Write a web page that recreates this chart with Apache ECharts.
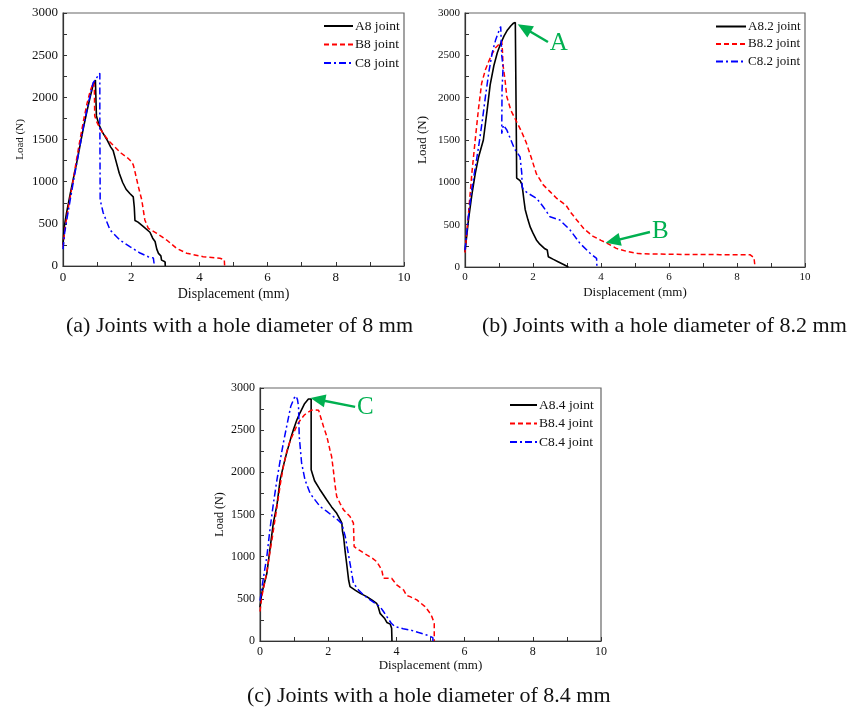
<!DOCTYPE html>
<html>
<head>
<meta charset="utf-8">
<script src="https://cdn.jsdelivr.net/npm/echarts@6/dist/echarts.min.js"></script>
<style>
html,body{margin:0;padding:0;background:#fff;}
#chart{width:859px;height:710px;}
</style>
</head>
<body>
<div id="chart"></div>
<script>
// ---- data (Displacement mm, Load N) ----
const xTicks = [0, 2, 4, 6, 8, 10];
const yTicks = [0, 500, 1000, 1500, 2000, 2500, 3000];
const captions = ['(a) Joints with a hole diameter of 8 mm', '(b) Joints with a hole diameter of 8.2 mm', '(c) Joints with a hole diameter of 8.4 mm'];
const namesA = ['A8 joint', 'B8 joint', 'C8 joint'];
const namesB = ['A8.2 joint', 'B8.2 joint', 'C8.2 joint'];
const namesC = ['A8.4 joint', 'B8.4 joint', 'C8.4 joint'];

const A8 = [[0,250],[0.03,450],[0.1,620],[0.2,830],[0.3,1030],[0.4,1220],[0.5,1430],[0.6,1640],[0.7,1830],[0.8,2010],[0.88,2140],[0.95,2205],[0.97,2200],[0.98,1780],[1.05,1680],[1.15,1590],[1.3,1490],[1.4,1410],[1.47,1370],[1.57,1220],[1.65,1100],[1.75,990],[1.85,910],[1.96,860],[2.06,820],[2.09,700],[2.11,540],[2.2,520],[2.35,470],[2.55,400],[2.63,330],[2.7,290],[2.75,200],[2.8,150],[2.87,120],[2.89,70],[2.99,50],[3.0,0]];
const B8 = [[0,220],[0.05,420],[0.15,680],[0.3,1020],[0.4,1270],[0.5,1500],[0.6,1720],[0.7,1920],[0.8,2080],[0.9,2180],[0.92,2100],[0.93,1780],[1.0,1700],[1.1,1620],[1.2,1560],[1.35,1480],[1.5,1420],[1.7,1340],[1.9,1280],[2.01,1237],[2.06,1200],[2.11,1119],[2.21,941],[2.31,783],[2.36,650],[2.4,546],[2.5,447],[2.75,388],[3.04,308],[3.33,210],[3.63,151],[4.11,110],[4.6,91],[4.73,75],[4.74,0]];
const C8 = [[0,200],[0.05,400],[0.15,640],[0.3,990],[0.4,1210],[0.5,1430],[0.6,1650],[0.7,1850],[0.8,2030],[0.88,2170],[1.0,2240],[1.08,2285],[1.08,1800],[1.09,783],[1.18,629],[1.38,427],[1.67,308],[1.96,230],[2.26,154],[2.5,110],[2.65,95],[2.68,0]];

const A82 = [[0,180],[0.1,550],[0.2,850],[0.3,1100],[0.4,1300],[0.54,1500],[0.65,1850],[0.74,2150],[0.85,2380],[0.95,2530],[1.05,2640],[1.15,2730],[1.25,2800],[1.35,2850],[1.42,2878],[1.48,2888],[1.5,2880],[1.51,1550],[1.52,1050],[1.62,1020],[1.67,980],[1.7,900],[1.73,800],[1.77,680],[1.85,560],[1.92,470],[2.0,400],[2.1,320],[2.2,270],[2.35,215],[2.42,200],[2.45,122],[2.6,90],[2.75,60],[2.9,30],[3.04,0]];
const B82 = [[0,170],[0.1,620],[0.2,1100],[0.3,1500],[0.4,1880],[0.49,2170],[0.6,2330],[0.7,2430],[0.8,2520],[0.9,2590],[1.0,2630],[1.08,2665],[1.1,2560],[1.12,2380],[1.18,2200],[1.23,2010],[1.35,1850],[1.5,1730],[1.65,1610],[1.8,1470],[1.95,1290],[2.1,1100],[2.3,970],[2.5,890],[2.7,810],[2.97,730],[3.1,650],[3.28,559],[3.5,450],[3.77,362],[4.0,315],[4.17,283],[4.45,220],[4.75,185],[5.1,158],[5.54,154],[6.5,148],[7.5,146],[8.38,146],[8.5,110],[8.53,0]];
const C82 = [[0,200],[0.1,600],[0.2,920],[0.3,1170],[0.4,1420],[0.5,1700],[0.6,2010],[0.7,2300],[0.8,2530],[0.9,2680],[0.98,2770],[1.05,2840],[1.08,2843],[1.08,2500],[1.12,2360],[1.09,2100],[1.08,1575],[1.13,1677],[1.23,1618],[1.35,1500],[1.45,1400],[1.57,1330],[1.62,1300],[1.67,1106],[1.68,950],[1.72,909],[1.9,860],[2.11,810],[2.3,712],[2.5,594],[2.79,555],[3.09,437],[3.38,280],[3.68,162],[3.87,102],[3.88,0]];

const A84 = [[0,400],[0.05,560],[0.2,800],[0.39,1397],[0.5,1620],[0.59,1911],[0.7,2100],[0.78,2228],[0.9,2400],[0.98,2505],[1.08,2620],[1.17,2703],[1.3,2810],[1.42,2869],[1.47,2880],[1.5,2870],[1.5,2330],[1.5,2030],[1.6,1900],[1.75,1800],[1.96,1672],[2.1,1590],[2.25,1514],[2.35,1440],[2.4,1397],[2.42,1300],[2.45,1239],[2.5,1050],[2.54,922],[2.6,720],[2.64,645],[2.8,600],[2.94,565],[3.13,526],[3.3,480],[3.42,447],[3.47,400],[3.52,328],[3.65,270],[3.72,220],[3.82,200],[3.86,150],[3.87,0]];
const B84 = [[0,350],[0.05,520],[0.2,820],[0.35,1200],[0.5,1600],[0.6,1870],[0.7,2100],[0.8,2270],[0.9,2390],[1.0,2480],[1.1,2570],[1.2,2630],[1.3,2680],[1.4,2710],[1.5,2735],[1.6,2742],[1.72,2735],[1.76,2723],[1.86,2545],[1.96,2426],[2.05,2268],[2.1,2188],[2.15,2030],[2.2,1850],[2.25,1713],[2.35,1630],[2.45,1555],[2.64,1476],[2.74,1397],[2.76,1120],[2.9,1080],[3.13,1021],[3.3,980],[3.42,942],[3.57,843],[3.62,744],[3.86,744],[4.01,665],[4.21,605],[4.3,540],[4.4,526],[4.6,487],[4.84,408],[4.95,350],[5.04,289],[5.11,210],[5.11,0]];
const C84 = [[0,480],[0.1,750],[0.2,1000],[0.3,1350],[0.4,1650],[0.5,1920],[0.6,2160],[0.7,2380],[0.8,2580],[0.9,2780],[1.0,2880],[1.06,2905],[1.1,2860],[1.13,2780],[1.15,2430],[1.22,2110],[1.32,1910],[1.47,1750],[1.6,1680],[1.76,1595],[1.95,1540],[2.15,1476],[2.3,1430],[2.4,1390],[2.5,1240],[2.57,1080],[2.64,920],[2.7,780],[2.74,685],[2.89,605],[3.05,540],[3.23,487],[3.4,440],[3.52,408],[3.62,350],[3.72,289],[3.85,210],[3.96,170],[4.2,145],[4.4,131],[4.65,100],[4.89,71],[5.07,40],[5.07,0]];

// annotation arrows: [tail, head] in data coordinates
const arrowA = [[2.44, 2657], [1.74, 2823]];
const arrowB = [[5.44, 413], [4.35, 306]];
const arrowC = [[2.79, 2776], [1.695, 2864]];

// ---- styling ----
const FONT = 'Liberation Serif';
const GREEN = '#00b050';
const grids = [
  {left: 63, top: 13, width: 341, height: 253},
  {left: 465, top: 13, width: 340, height: 254},
  {left: 260, top: 388, width: 341, height: 253}
];
const tickSize = [13, 11, 12];
const xNameSize = [14, 13, 13];
const xNameGap = [21, 19, 15];
const yNameSize = [11, 13, 12];
const yNameGap = [37, 36, 34];

function xAxis(i) {
  return {
    gridIndex: i, type: 'value', min: 0, max: 10, interval: 2,
    name: 'Displacement (mm)', nameLocation: 'middle', nameGap: xNameGap[i],
    nameTextStyle: {fontFamily: FONT, fontSize: xNameSize[i], color: '#111'},
    axisLine: {show: true, onZero: false, lineStyle: {color: '#333', width: 1.2}},
    axisTick: {show: true, inside: true, length: 4, lineStyle: {color: '#333'}},
    minorTick: {show: true, splitNumber: 2, length: 4, lineStyle: {color: '#333'}},
    splitLine: {show: false},
    axisLabel: {fontFamily: FONT, fontSize: tickSize[i], color: '#111', margin: 5,
      formatter: v => xTicks.includes(v) ? String(v) : ''}
  };
}
function yAxis(i) {
  return {
    gridIndex: i, type: 'value', min: 0, max: 3000, interval: 500,
    name: 'Load (N)', nameLocation: 'middle', nameGap: yNameGap[i],
    nameTextStyle: {fontFamily: FONT, fontSize: yNameSize[i], color: '#111'},
    axisLine: {show: true, onZero: false, lineStyle: {color: '#333', width: 1.2}},
    axisTick: {show: true, inside: true, length: 4, lineStyle: {color: '#333'}},
    minorTick: {show: true, splitNumber: 2, length: 4, lineStyle: {color: '#333'}},
    splitLine: {show: false},
    axisLabel: {fontFamily: FONT, fontSize: tickSize[i], color: '#111', margin: 5,
      formatter: v => yTicks.includes(v) ? String(v) : ''}
  };
}
const solid = 'solid', dashed = [5, 3], dashDot = [7, 3, 2, 3];
function ser(name, data, color, type, i, extra) {
  return Object.assign({
    name, type: 'line', data, xAxisIndex: i, yAxisIndex: i,
    symbol: 'none', showSymbol: false, smooth: false, animation: false,
    lineStyle: {color, width: color === '#000000' ? 1.6 : 1.5, type},
    itemStyle: {color}
  }, extra || {});
}
function arrow(pair, letter) {
  return {
    silent: true, animation: false,
    symbol: ['none', 'triangle'], symbolSize: [13, 15],
    lineStyle: {color: GREEN, width: 2.5, type: 'solid'},
    itemStyle: {color: GREEN},
    label: {show: true, position: 'start', formatter: letter, color: GREEN,
      fontFamily: FONT, fontSize: 25, distance: 2},
    emphasis: {disabled: true},
    data: [[{coord: pair[0]}, {coord: pair[1]}]]
  };
}
function legend(names, left, top, w, fs) {
  return {
    data: names, orient: 'vertical', left, top, padding: 0,
    itemWidth: w, itemHeight: 12, itemGap: 4.5, selectedMode: false,
    itemStyle: {opacity: 0, borderWidth: 0},
    textStyle: {fontFamily: FONT, fontSize: fs, color: '#111', padding: [0, 0, 0, -3]}
  };
}

const option = {
  backgroundColor: '#fff',
  animation: false,
  grid: grids.map(g => Object.assign({show: true, borderColor: '#666', borderWidth: 1.2, backgroundColor: 'transparent'}, g)),
  xAxis: [0, 1, 2].map(xAxis),
  yAxis: [0, 1, 2].map(yAxis),
  legend: [
    legend(namesA, 323, 19, 29, 13.5),
    legend(namesB, 715, 20, 30, 13),
    legend(namesC, 509, 398, 27, 13.5)
  ],
  title: [
    {text: captions[0], left: 66, top: 315, padding: 0, textStyle: {fontFamily: FONT, fontSize: 22, fontWeight: 'normal', color: '#111'}},
    {text: captions[1], left: 482, top: 315, padding: 0, textStyle: {fontFamily: FONT, fontSize: 22, fontWeight: 'normal', color: '#111'}},
    {text: captions[2], left: 247, top: 685, padding: 0, textStyle: {fontFamily: FONT, fontSize: 22, fontWeight: 'normal', color: '#111'}}
  ],
  series: [
    ser(namesA[0], A8, '#000000', solid, 0),
    ser(namesA[1], B8, '#ff0000', dashed, 0),
    ser(namesA[2], C8, '#0000ff', dashDot, 0),
    ser(namesB[0], A82, '#000000', solid, 1, {markLine: arrow(arrowA, 'A')}),
    ser(namesB[1], B82, '#ff0000', dashed, 1, {markLine: arrow(arrowB, 'B')}),
    ser(namesB[2], C82, '#0000ff', dashDot, 1),
    ser(namesC[0], A84, '#000000', solid, 2, {markLine: arrow(arrowC, 'C')}),
    ser(namesC[1], B84, '#ff0000', dashed, 2),
    ser(namesC[2], C84, '#0000ff', dashDot, 2)
  ]
};
const chart = echarts.init(document.getElementById('chart'), null, {renderer: 'canvas'});
chart.setOption(option);
</script>
</body>
</html>
